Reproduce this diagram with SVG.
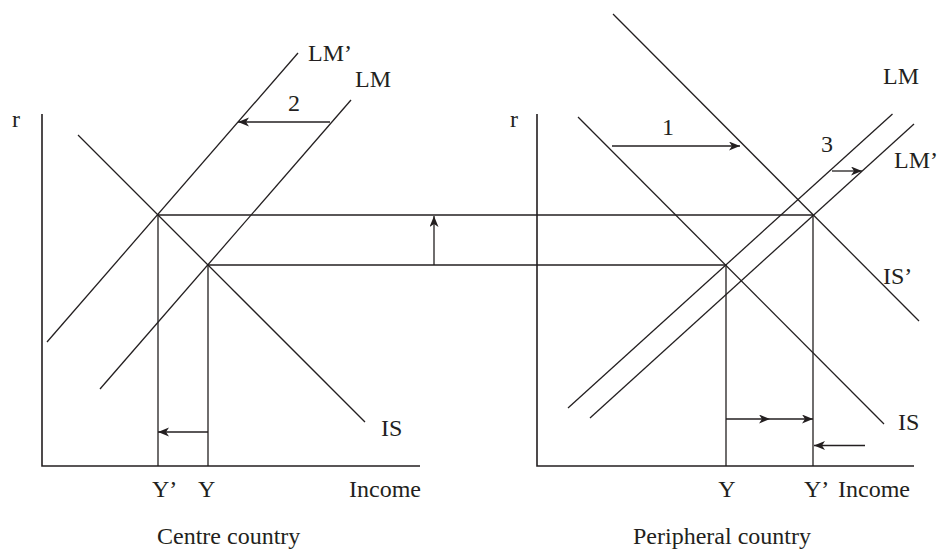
<svg xmlns="http://www.w3.org/2000/svg" width="940" height="551" viewBox="0 0 940 551">
<defs>
<marker id="ah" markerWidth="12" markerHeight="10" refX="11" refY="4.5" orient="auto" markerUnits="userSpaceOnUse">
<path d="M0,0 L11,4.5 L0,9 L3,4.5 Z" fill="#231f20"/>
</marker>
</defs>
<style>
.ln{stroke:#231f20;stroke-width:1.3;fill:none}
.ax{stroke:#231f20;stroke-width:1.6;fill:none}
.ar{stroke:#231f20;stroke-width:1.3;fill:none;marker-end:url(#ah)}
text{font-family:"Liberation Serif","Times New Roman",serif;font-size:24px;fill:#231f20}
.m{text-anchor:middle}
</style>
<rect width="940" height="551" fill="#fff"/>
<g id="centre-country">
<path class="ax" d="M42,114 V466 H420"/>
<line id="centre-IS" class="ln" x1="78" y1="135" x2="365" y2="422"/>
<line id="centre-LMp" class="ln" x1="298" y1="53" x2="47" y2="342"/>
<line id="centre-LM" class="ln" x1="351" y1="100" x2="100" y2="389"/>
<line class="ln" x1="158" y1="215" x2="158" y2="466"/>
<line class="ln" x1="208" y1="265" x2="208" y2="466"/>
<text x="12" y="127">r</text>
<text x="308" y="61">LM’</text>
<text x="355" y="87">LM</text>
<text class="m" x="294" y="111">2</text>
<text x="381" y="436">IS</text>
<text x="152" y="497">Y’</text>
<text x="198" y="497">Y</text>
<text x="349" y="497">Income</text>
<text x="157" y="544">Centre country</text>
</g>
<g id="peripheral-country">
<path class="ax" d="M537,114 V466 H914"/>
<line id="per-IS" class="ln" x1="578" y1="117" x2="884" y2="424"/>
<line id="per-ISp" class="ln" x1="613" y1="14" x2="919" y2="321"/>
<line id="per-LM" class="ln" x1="892.5" y1="114" x2="568" y2="408"/>
<line id="per-LMp" class="ln" x1="914" y1="124" x2="590" y2="418"/>
<line class="ln" x1="726" y1="265" x2="726" y2="466"/>
<line class="ln" x1="813" y1="215" x2="813" y2="466"/>
<text x="510" y="127">r</text>
<text class="m" x="668" y="135">1</text>
<text class="m" x="827" y="152">3</text>
<text x="883" y="84">LM</text>
<text x="894" y="168">LM’</text>
<text x="883" y="284">IS’</text>
<text x="898" y="430">IS</text>
<text class="m" x="727" y="497">Y</text>
<text x="804" y="497">Y’</text>
<text x="838" y="497">Income</text>
<text x="633" y="544">Peripheral country</text>
</g>
<g id="connectors">
<line class="ln" x1="158" y1="215" x2="813" y2="215"/>
<line class="ln" x1="208" y1="265" x2="726" y2="265"/>
<line class="ar" x1="434" y1="265" x2="434" y2="216"/>
<line class="ar" x1="330" y1="122" x2="238" y2="122"/>
<line class="ar" x1="208" y1="432" x2="158" y2="432"/>
<line class="ar" x1="612" y1="146" x2="740" y2="146"/>
<line class="ar" x1="832" y1="171" x2="862" y2="171"/>
<line class="ar" x1="726" y1="419" x2="770" y2="419"/>
<line class="ar" x1="770" y1="419" x2="813" y2="419"/>
<line class="ar" x1="865" y1="445.5" x2="814" y2="445.5"/>
</g>
</svg>
